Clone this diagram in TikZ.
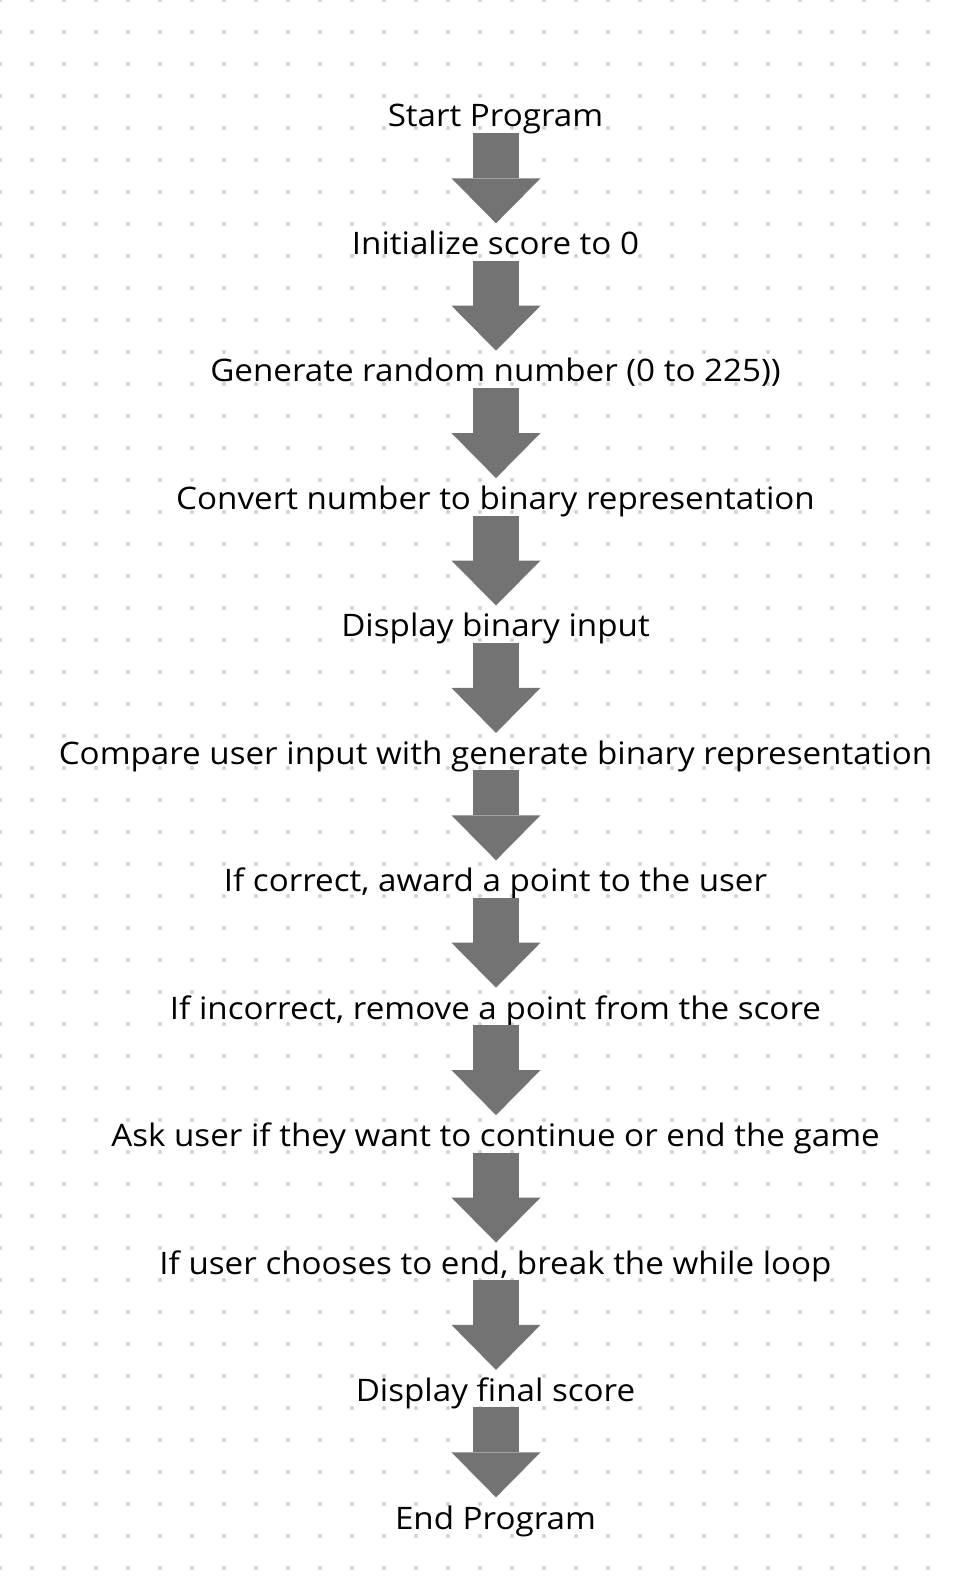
\documentclass[tikz,border=0pt]{standalone}
\usepackage{fontspec}
\setmainfont{Open Sans}
\usepackage{tikz}
\usetikzlibrary{arrows.meta}
\usepackage{xcolor}
\definecolor{ColWhite}{RGB}{255,255,255}
\definecolor{ColDot}{RGB}{204,210,219}
\definecolor{ColArrow}{RGB}{115,115,115}
\definecolor{ColText}{RGB}{0,0,0}
\tikzstyle{NodeStep}=[anchor=base,inner sep=0pt,text=ColText,xscale=1.07,transform shape,
font=\fontsize{31}{37}\selectfont]
\tikzstyle{EdgeArrow}=[ColArrow,line width=46pt,
-{Triangle[length=45pt,width=89pt,line width=0pt]}]
\tikzstyle{DotGrid}=[fill=ColDot]

\begin{document}
\begin{tikzpicture}[x=1pt,y=1pt]
        \fill[ColWhite](0,0)rectangle(958,-1590);
        \useasboundingbox(0,0)rectangle(958,-1590);
        \foreach \i in {0,...,30}
            \foreach \j in {0,...,50}
                \fill[DotGrid](32*\i,-32*\j)circle(2);
        \node[NodeStep](t0)at(495.5,-126.7){Start Program};
        \node[NodeStep](t1)at(495.5,-254.2){Initialize score to 0};
        \node[NodeStep](t2)at(495.5,-381.7){Generate random number (0 to 225))};
        \node[NodeStep](t3)at(495.5,-509.2){Convert number to binary representation};
        \node[NodeStep](t4)at(495.5,-636.7){Display binary input};
        \node[NodeStep](t5)at(495.5,-764.2){Compare user input with generate binary representation};
        \node[NodeStep](t6)at(495.5,-891.7){If correct, award a point to the user};
        \node[NodeStep](t7)at(495.5,-1019.2){If incorrect, remove a point from the score};
        \node[NodeStep](t8)at(495.5,-1146.7){Ask user if they want to continue or end the game};
        \node[NodeStep](t9)at(495.5,-1274.2){If user chooses to end, break the while loop};
        \node[NodeStep](t10)at(495.5,-1401.7){Display final score};
        \node[NodeStep](t11)at(495.5,-1529.2){End Program};
        \foreach \i in {0,...,10}{
            \coordinate(s\i)at(496,-133.3-127.4*\i);
            \coordinate(e\i)at(496,-223.3-127.4*\i);
            \draw[EdgeArrow](s\i)--(e\i);
        }
    \end{tikzpicture}
\end{document}
